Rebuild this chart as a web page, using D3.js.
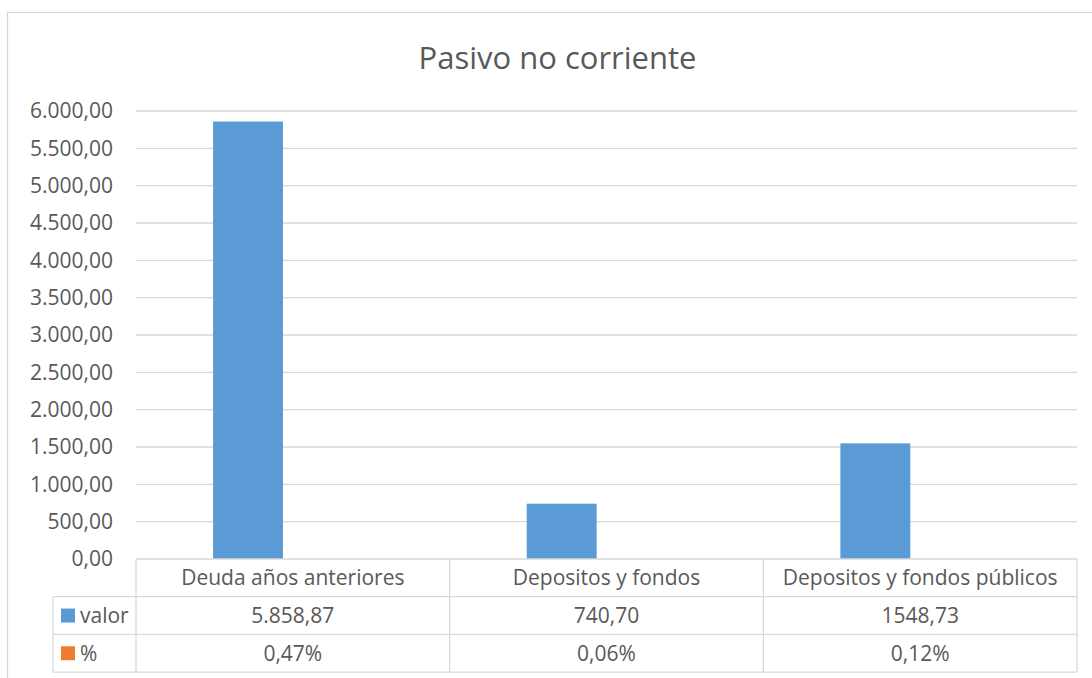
<!DOCTYPE html>
<html>
<head>
<meta charset="utf-8">
<script src="https://cdn.jsdelivr.net/npm/d3@7"></script>
<style>
  body { margin: 0; background: #fff; }
  svg text { font-family: "Open Sans", "Liberation Sans", sans-serif; fill: #595959; }
</style>
</head>
<body>
<div id="chart"></div>
<script>
const categories = ["Deuda años anteriores", "Depositos y fondos", "Depositos y fondos públicos"];
const series = ["valor", "%"];
const valor = [5858.87, 740.70, 1548.73];
const pct = [0.47, 0.06, 0.12];
const valorLabels = ["5.858,87", "740,70", "1548,73"];
const pctLabels = ["0,47%", "0,06%", "0,12%"];
const yTicks = [0, 500, 1000, 1500, 2000, 2500, 3000, 3500, 4000, 4500, 5000, 5500, 6000];

const colors = { "valor": "#5b9bd5", "%": "#ed7d31" };
const gridColor = "#d9d9d9";

const width = 1092, height = 678;
const plot = { left: 136, right: 1077, top: 111, bottom: 559 };
const rowH = 37.7;
const legendLeft = 53;

const locale = d3.formatLocale({ decimal: ",", thousands: ".", grouping: [3], currency: ["", "€"] });
const fmt = locale.format(",.2f");

const svg = d3.select("#chart").append("svg")
    .attr("width", width)
    .attr("height", height);

// chart frame (right and bottom edges fall outside the picture)
svg.append("rect")
    .attr("x", 7.5).attr("y", 12.5)
    .attr("width", 1100).attr("height", 700)
    .attr("fill", "none")
    .attr("stroke", gridColor)
    .attr("stroke-width", 1.3);

svg.append("text")
    .attr("x", 557.5)
    .attr("y", 69)
    .attr("text-anchor", "middle")
    .attr("font-size", "31px")
    .text("Pasivo no corriente");

const y = d3.scaleLinear().domain([0, 6000]).range([plot.bottom, plot.top]);
const x0 = d3.scaleBand().domain(categories).range([plot.left, plot.right]);
const x1 = d3.scaleBand().domain(series).range([0, x0.bandwidth()])
    .paddingInner(0.22).paddingOuter(0.86);

// gridlines
svg.append("g")
    .selectAll("line")
    .data(yTicks.filter(d => d > 0))
    .enter()
    .append("line")
    .attr("x1", plot.left).attr("x2", plot.right)
    .attr("y1", d => y(d)).attr("y2", d => y(d))
    .attr("stroke", gridColor)
    .attr("stroke-width", 1.3);

// y axis labels
const yAxis = d3.axisLeft(y).tickValues(yTicks).tickFormat(fmt).tickSize(0).tickPadding(23);
const gy = svg.append("g")
    .attr("transform", `translate(${plot.left},0)`)
    .call(yAxis);
gy.select(".domain").remove();
gy.selectAll("text")
    .attr("font-size", "21px")
    .attr("fill", "#595959")
    .attr("font-family", "\"Open Sans\", sans-serif");

// bars
const rows = categories.map((c, i) => ({ cat: c, values: [
    { key: "valor", value: valor[i] },
    { key: "%", value: pct[i] }
]}));

svg.append("g")
    .selectAll("g")
    .data(rows)
    .enter()
    .append("g")
    .attr("transform", d => `translate(${x0(d.cat)},0)`)
    .selectAll("rect")
    .data(d => d.values)
    .enter()
    .append("rect")
    .attr("x", d => x1(d.key))
    .attr("width", x1.bandwidth())
    .attr("y", d => y(d.value))
    .attr("height", d => y(0) - y(d.value))
    .attr("fill", d => colors[d.key]);

// data table
const table = svg.append("g")
    .attr("stroke", gridColor)
    .attr("stroke-width", 1.3);
const tTop = plot.bottom;
const r1 = tTop + rowH, r2 = tTop + 2 * rowH, r3 = tTop + 3 * rowH;

table.append("line").attr("x1", plot.left).attr("x2", plot.right).attr("y1", tTop).attr("y2", tTop);
[r1, r2, r3].forEach(yy => {
    table.append("line").attr("x1", legendLeft).attr("x2", plot.right).attr("y1", yy).attr("y2", yy);
});
table.append("line").attr("x1", legendLeft).attr("x2", legendLeft).attr("y1", r1).attr("y2", r3);
categories.forEach(c => {
    table.append("line").attr("x1", x0(c)).attr("x2", x0(c)).attr("y1", tTop).attr("y2", r3);
});
table.append("line").attr("x1", plot.right).attr("x2", plot.right).attr("y1", tTop).attr("y2", r3);

const cellText = (rowTop, labels) => {
    svg.append("g")
        .selectAll("text")
        .data(categories)
        .enter()
        .append("text")
        .attr("x", d => x0(d) + x0.bandwidth() / 2)
        .attr("y", rowTop + rowH / 2)
        .attr("dy", "0.36em")
        .attr("text-anchor", "middle")
        .attr("font-size", "21px")
        .text((d, i) => labels[i]);
};
cellText(tTop, categories);
cellText(r1, valorLabels);
cellText(r2, pctLabels);

// legend keys in table
const legendRows = [{ key: "valor", top: r1 }, { key: "%", top: r2 }];
legendRows.forEach(l => {
    svg.append("rect")
        .attr("x", 61)
        .attr("y", l.top + rowH / 2 - 7)
        .attr("width", 14).attr("height", 14)
        .attr("fill", colors[l.key]);
    svg.append("text")
        .attr("x", 80)
        .attr("y", l.top + rowH / 2)
        .attr("dy", "0.36em")
        .attr("font-size", "21px")
        .text(l.key);
});
</script>
</body>
</html>
